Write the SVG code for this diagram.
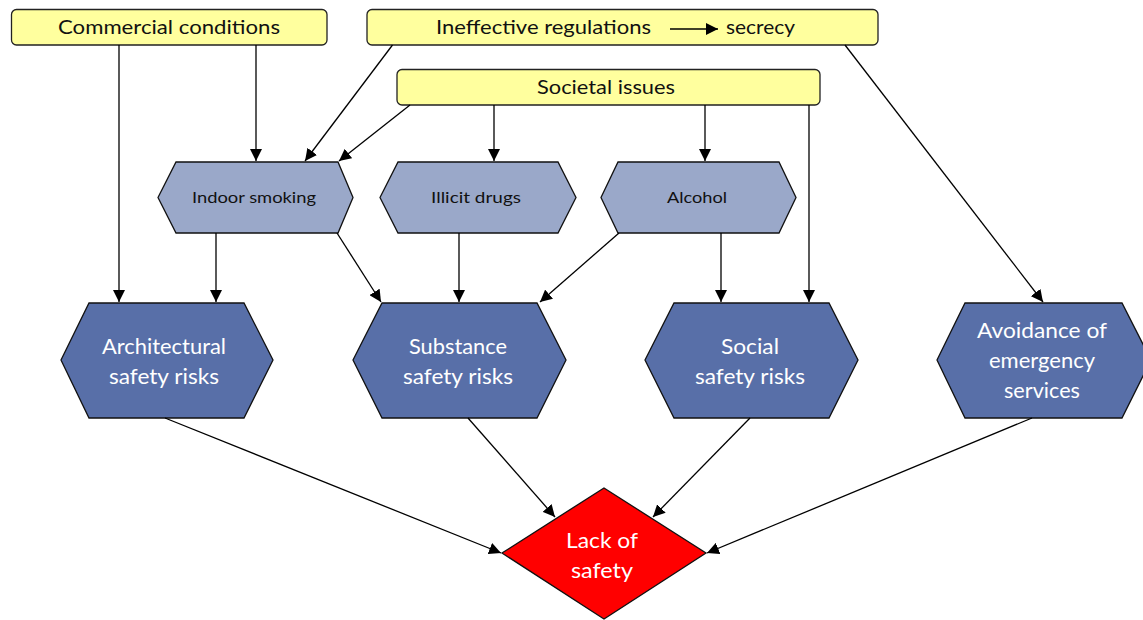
<svg xmlns="http://www.w3.org/2000/svg" width="1143" height="620" viewBox="0 0 1143 620">
<defs>
<marker id="ah" viewBox="0 0 10 10" refX="10" refY="5" markerWidth="12" markerHeight="12" markerUnits="userSpaceOnUse" orient="auto">
<path d="M0,0 L10,5 L0,10 Z" fill="#000"/>
</marker>
<style>
.box{fill:#FFFF9E;stroke:#222;stroke-width:1.3}
.sh{fill:#9AA8C9;stroke:#111;stroke-width:1.3}
.bh{fill:#586FA8;stroke:#111;stroke-width:1.3}
.dm{fill:#FF0000;stroke:#111;stroke-width:1.3}
.c line{stroke:#000;stroke-width:1.3;marker-end:url(#ah)}
text{font-family:Lato,"Open Sans","Liberation Sans",sans-serif;text-anchor:middle}
.t1{font-size:20px;fill:#111}
.t2{font-size:15.5px;fill:#111}
.t3{font-size:20.5px;fill:#fff}
</style>
</defs>
<rect width="1143" height="620" fill="#fff"/>

<g id="commercial">
<rect class="box" x="11.5" y="9.5" width="315.5" height="35.5" rx="5"/>
<text class="t1" x="169" y="34" textLength="222" lengthAdjust="spacingAndGlyphs">Commercial conditions</text>
</g>
<g id="ineffective">
<rect class="box" x="367" y="9.5" width="511" height="35.5" rx="5"/>
<text class="t1" x="543.5" y="34" textLength="215" lengthAdjust="spacingAndGlyphs">Ineffective regulations</text>
<line x1="670" y1="29" x2="718" y2="29" stroke="#000" stroke-width="1.5" marker-end="url(#ah)"/>
<text class="t1" x="760.5" y="34" textLength="69" lengthAdjust="spacingAndGlyphs">secrecy</text>
</g>
<g id="societal">
<rect class="box" x="397" y="69.5" width="423" height="35.5" rx="5"/>
<text class="t1" x="606" y="94" textLength="138" lengthAdjust="spacingAndGlyphs">Societal issues</text>
</g>

<g id="indoor">
<polygon class="sh" points="158,197.5 176,162 338,162 353,197.5 338,233 176,233"/>
<text class="t2" x="254" y="203" textLength="124" lengthAdjust="spacingAndGlyphs">Indoor smoking</text>
</g>
<g id="illicit">
<polygon class="sh" points="380,197.5 398,162 558,162 576,197.5 558,233 398,233"/>
<text class="t2" x="476" y="203" textLength="90" lengthAdjust="spacingAndGlyphs">Illicit drugs</text>
</g>
<g id="alcohol">
<polygon class="sh" points="601,197.5 618,162 779,162 796,197.5 779,233 618,233"/>
<text class="t2" x="697" y="203" textLength="60" lengthAdjust="spacingAndGlyphs">Alcohol</text>
</g>

<g id="architectural">
<polygon class="bh" points="61,360 89,303 244,303 273,360 244,418 89,418"/>
<text class="t3" x="164" y="354" textLength="124" lengthAdjust="spacingAndGlyphs">Architectural</text>
<text class="t3" x="164" y="384" textLength="110" lengthAdjust="spacingAndGlyphs">safety risks</text>
</g>
<g id="substance">
<polygon class="bh" points="353,360 382,303 537,303 566,360 537,418 382,418"/>
<text class="t3" x="458" y="354" textLength="98" lengthAdjust="spacingAndGlyphs">Substance</text>
<text class="t3" x="458" y="384" textLength="110" lengthAdjust="spacingAndGlyphs">safety risks</text>
</g>
<g id="social">
<polygon class="bh" points="645,360 674,303 829,303 858,360 829,418 674,418"/>
<text class="t3" x="750" y="354" textLength="58" lengthAdjust="spacingAndGlyphs">Social</text>
<text class="t3" x="750" y="384" textLength="110" lengthAdjust="spacingAndGlyphs">safety risks</text>
</g>
<g id="avoidance">
<polygon class="bh" points="937,360 965,303 1122,303 1151,360 1122,418 965,418"/>
<text class="t3" x="1042" y="338" textLength="130" lengthAdjust="spacingAndGlyphs">Avoidance of</text>
<text class="t3" x="1042" y="368" textLength="106" lengthAdjust="spacingAndGlyphs">emergency</text>
<text class="t3" x="1042" y="398" textLength="76" lengthAdjust="spacingAndGlyphs">services</text>
</g>

<g id="lack">
<polygon class="dm" points="604,488 706,553 604,619 502,553"/>
<text class="t3" x="602" y="548" textLength="72" lengthAdjust="spacingAndGlyphs">Lack of</text>
<text class="t3" x="602" y="578" textLength="62" lengthAdjust="spacingAndGlyphs">safety</text>
</g>

<g id="connectors" class="c">
<line x1="119" y1="45" x2="119" y2="302"/>
<line x1="256" y1="45" x2="256" y2="161"/>
<line x1="392.5" y1="45" x2="305" y2="161"/>
<line x1="410" y1="105" x2="339" y2="161"/>
<line x1="494" y1="105" x2="494" y2="161"/>
<line x1="705" y1="105" x2="705" y2="161"/>
<line x1="809" y1="105" x2="809" y2="302"/>
<line x1="845" y1="45" x2="1043" y2="302"/>
<line x1="216" y1="233" x2="216" y2="302"/>
<line x1="337" y1="233" x2="381" y2="302"/>
<line x1="459" y1="233" x2="459" y2="302"/>
<line x1="619" y1="233" x2="540" y2="302"/>
<line x1="721" y1="233" x2="721" y2="302"/>
<line x1="165" y1="418" x2="501" y2="553"/>
<line x1="468" y1="418" x2="555" y2="517"/>
<line x1="750" y1="418" x2="653" y2="517"/>
<line x1="1032" y1="418" x2="707" y2="553"/>
</g>
</svg>
